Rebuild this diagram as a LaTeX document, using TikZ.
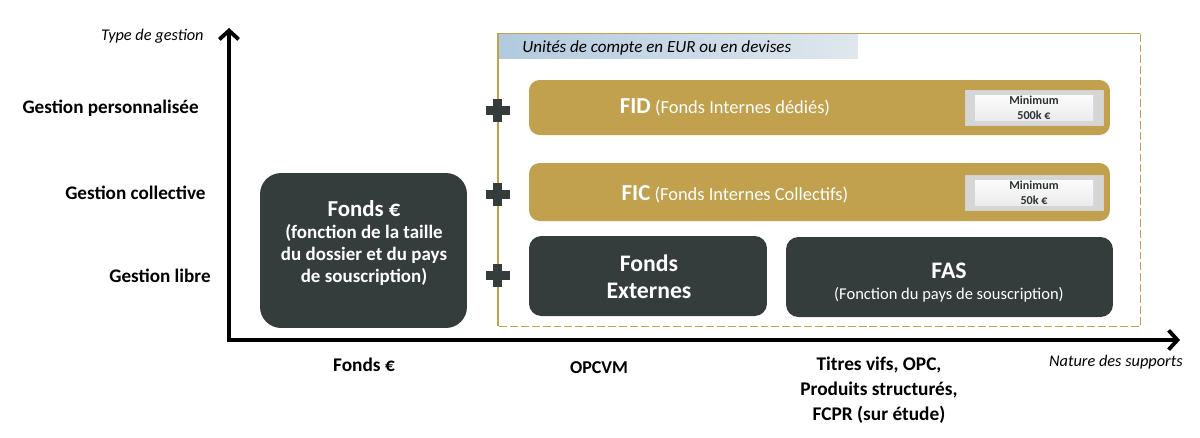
\documentclass[tikz,border=0pt]{standalone}
\usepackage{fontspec}
\setmainfont{Carlito}
\usetikzlibrary{arrows.meta,positioning}

\definecolor{gold}{RGB}{193,160,78}
\definecolor{slate}{RGB}{52,61,60}
\definecolor{bandblue}{RGB}{178,202,222}
\definecolor{bandpale}{RGB}{224,231,238}
\definecolor{inkgray}{RGB}{45,50,52}

\tikzset{
  goldbox/.style={fill=gold, rounded corners=6pt, inner sep=0pt},
  darkbox/.style={fill=slate, rounded corners=7pt, inner sep=0pt},
  boxtext/.style={text=white, align=center, inner sep=0pt, font=\fontsize{10.5}{12.5}\selectfont},
  badge/.style={fill=black!16, draw=black!18, line width=0.4pt, inner sep=0pt,
    minimum width=2.76cm, minimum height=0.7cm, align=center, text=inkgray,
    font=\fontsize{6.9}{8.5}\selectfont\bfseries,
    path picture={\fill[top color=white, bottom color=black!9]
      ([xshift=0.2cm,yshift=-0.1cm]path picture bounding box.north west) rectangle
      ([xshift=-0.2cm,yshift=0.1cm]path picture bounding box.south east);}},
  leftlabel/.style={anchor=east, inner sep=0pt, font=\fontsize{10.9}{13}\selectfont\bfseries},
  bottomlabel/.style={align=center, inner sep=0pt, font=\fontsize{11}{14.2}\selectfont\bfseries},
  axisname/.style={inner sep=0pt, font=\fontsize{9.3}{11}\selectfont\itshape},
  axisline/.style={line width=2.2pt, line join=miter,
    {Straight Barb[length=5pt,width=11pt]}-{Straight Barb[length=5pt,width=11pt]}}
}

\begin{document}
\begin{tikzpicture}[x=0.02cm,y=-0.02cm]
\useasboundingbox (0,0) rectangle (1200,437);

% axes
\coordinate (ytip) at (229,28);
\coordinate (xtip) at (1180,340);
\draw[axisline] (ytip) |- (xtip);
\node[axisname, anchor=east] (ytitle) at (204,36) {Type de gestion};
\node[axisname, anchor=east] (xtitle) at (1183,362) {Nature des supports};

\node[leftlabel] (perso) at (199,108) {Gestion personnalisée};
\node[leftlabel] (collec) at (206,193) {Gestion collective};
\node[leftlabel] (libre) at (211,276) {Gestion libre};

% unites de compte
\node[minimum width=12.84cm, minimum height=5.84cm, inner sep=0pt] (uc) at (819,180) {};
\node[anchor=north west, inner sep=0pt, minimum width=7.2cm, minimum height=0.48cm,
  left color=bandblue, right color=bandpale] (band) at (uc.north west) {};
\node[axisname, anchor=west, font=\fontsize{9.7}{11}\selectfont\itshape] (bandtext) at (522,48) {Unités de compte en EUR ou en devises};
\draw[gold, line width=0.9pt] (uc.south west) -- (uc.north west) -- (uc.north east);
\draw[gold, line width=0.8pt, dash pattern=on 4.5pt off 1.7pt] (uc.north east) -- (uc.south east) -- (uc.south west);

\foreach \py in {110,194,275} {
  \fill[slate] (493,\py-11.5) rectangle (502,\py+11.5);
  \fill[slate] (485.5,\py-4.5) rectangle (509.5,\py+4.5);
}

\node[goldbox, minimum width=11.62cm, minimum height=1.1cm] (fid) at (819.5,107.5) {};
\node[boxtext] (fidtext) at (725,107) {{\fontsize{13}{15}\selectfont\bfseries FID} (Fonds Internes dédiés)};
\node[badge] (fidmin) at (1034,107.5) {Minimum\\500k €};

\node[goldbox, minimum width=11.62cm, minimum height=1.16cm] (fic) at (819.5,192) {};
\node[boxtext] (fictext) at (735,194) {{\fontsize{13}{15}\selectfont\bfseries FIC} (Fonds Internes Collectifs)};
\node[badge] (ficmin) at (1034,192.5) {Minimum\\50k €};

\node[darkbox, minimum width=4.76cm, minimum height=1.6cm] (ext) at (648,276) {};
\node[boxtext, font=\fontsize{13.5}{15.3}\selectfont\bfseries] (exttext) at (649,276.5) {Fonds\\Externes};

\node[darkbox, minimum width=6.54cm, minimum height=1.6cm] (fas) at (949.5,277) {};
\node[boxtext, font=\fontsize{9.4}{12}\selectfont] (fastext) at (949,283) {{\fontsize{13.5}{12}\selectfont\bfseries FAS}\\(Fonction du pays de souscription)};

% fonds euro
\node[darkbox, rounded corners=12pt, minimum width=4.14cm, minimum height=3.1cm] (euro) at (363.5,250.5) {};
\node[boxtext, font=\fontsize{10.8}{12.5}\selectfont\bfseries] (eurotext) at (364,243) {{\fontsize{13}{12.5}\selectfont Fonds €}\\(fonction de la taille\\du dossier et du pays\\de souscription)};

\node[bottomlabel] (botfonds) at (364,365) {Fonds €};
\node[bottomlabel, font=\fontsize{10.3}{13}\selectfont\bfseries] (botopc) at (599,368) {OPCVM};
\node[bottomlabel] (bottitres) at (879,390) {Titres vifs, OPC,\\Produits structurés,\\FCPR (sur étude)};
\end{tikzpicture}
\end{document}
